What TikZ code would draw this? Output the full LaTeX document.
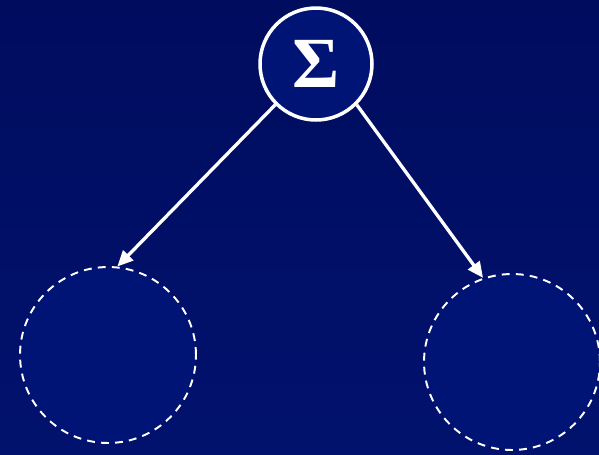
\documentclass[tikz,border=0pt]{standalone}
\usepackage{fontspec}
\setmainfont{Liberation Serif}
\usetikzlibrary{arrows.meta}

\definecolor{navytop}{RGB}{0,12,94}
\definecolor{navybot}{RGB}{1,18,110}
\definecolor{discfill}{RGB}{0,20,118}

\begin{document}
\begin{tikzpicture}[x=0.02cm,y=-0.02cm,>={Triangle[length=9pt,width=8pt]},
  sumnode/.style={circle,draw=white,line width=2pt,fill=discfill,
    minimum size=2.24cm,inner sep=0pt,text=white,
    font=\fontsize{41}{41}\selectfont\bfseries},
  slot/.style={circle,draw=white,line width=1.1pt,dash pattern=on 4.5pt off 3.5pt,
    fill=discfill,minimum size=3.52cm,inner sep=0pt},
  link/.style={->,white,line width=1.9pt}]
  \useasboundingbox (0,0) rectangle (599,454);
  \shade[top color=navytop,bottom color=navybot] (0,0) rectangle (599,454);

  \node[sumnode] (sum) at (316,64) {Σ};
  \node[slot] (left) at (108,355) {};
  \node[slot] (right) at (512,362) {};

  \draw[link] (sum.225) -- (left.84);
  \draw[link] (sum.315) -- (right.109);
\end{tikzpicture}
\end{document}
